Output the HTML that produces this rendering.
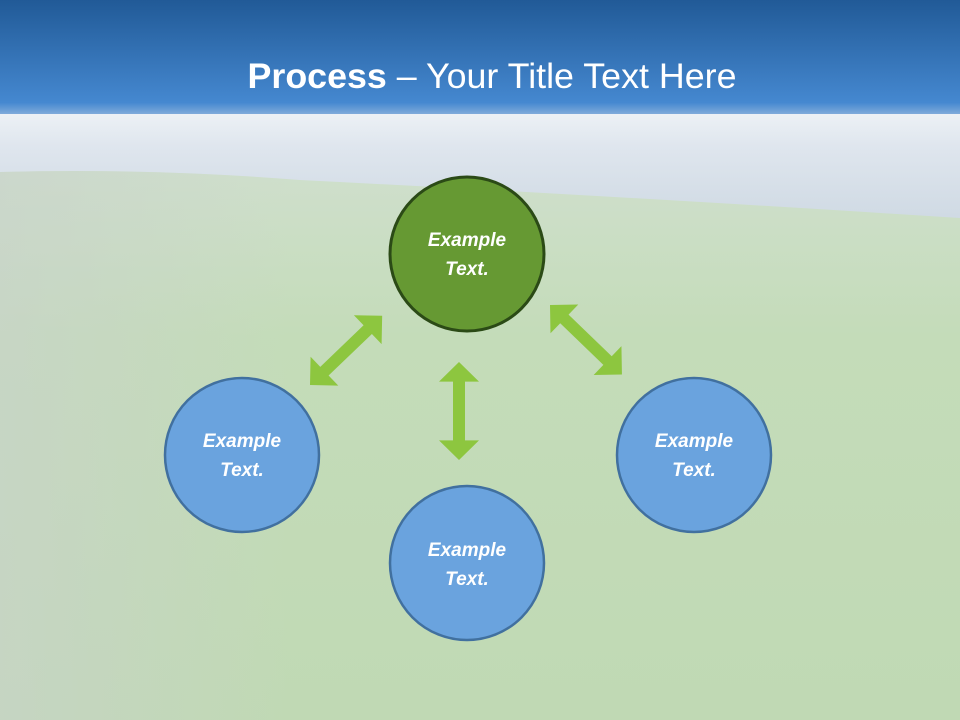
<!DOCTYPE html>
<html><head><meta charset="utf-8"><style>
html,body{margin:0;padding:0;width:960px;height:720px;overflow:hidden}
svg{display:block}
</style></head><body>
<svg width="960" height="720" viewBox="0 0 960 720" xmlns="http://www.w3.org/2000/svg">
<defs>
<linearGradient id="top" x1="0" y1="0" x2="0" y2="1">
<stop offset="0" stop-color="#215a97"/><stop offset="0.9" stop-color="#4588d0"/><stop offset="1" stop-color="#7fabda"/>
</linearGradient>
<linearGradient id="sky" x1="0" y1="0" x2="0" y2="1">
<stop offset="0" stop-color="#eef2f6"/><stop offset="0.3" stop-color="#dfe6ee"/><stop offset="1" stop-color="#cdd8e2"/>
</linearGradient>
<linearGradient id="grass" x1="0" y1="0" x2="0" y2="1">
<stop offset="0" stop-color="#cfdfcc"/><stop offset="0.3" stop-color="#c4dcb9"/><stop offset="1" stop-color="#c0d9b4"/>
</linearGradient>
<linearGradient id="grassx" x1="0" y1="0" x2="1" y2="0">
<stop offset="0" stop-color="#c9d2cc" stop-opacity="0.6"/><stop offset="0.3" stop-color="#c9d2cc" stop-opacity="0"/>
</linearGradient>
<polygon id="arr" points="0,0 20,-20 20,-6 80,-6 80,-20 100,0 80,20 80,6 20,6 20,20" fill="#8dc63f"/>
</defs>
<rect width="960" height="720" fill="url(#grass)"/>
<rect x="0" y="110" width="960" height="120" fill="url(#sky)"/>
<path d="M0,172 Q150,168 300,180 Q600,195 960,218 L960,720 L0,720 Z" fill="url(#grass)"/>
<path d="M0,172 Q150,168 300,180 Q600,195 960,218 L960,720 L0,720 Z" fill="url(#grassx)"/>
<rect x="0" y="0" width="960" height="114" fill="url(#top)"/>
<text x="492" y="88" text-anchor="middle" font-family="Liberation Sans, sans-serif" font-size="35" fill="#fff" textLength="489" lengthAdjust="spacingAndGlyphs"><tspan font-weight="bold">Process</tspan> – Your Title Text Here</text>

<use href="#arr" transform="translate(459,362) rotate(90) scale(0.98,1)"/>
<use href="#arr" transform="translate(310,385) rotate(-43.8)"/>
<use href="#arr" transform="translate(550,305) rotate(44)"/>

<g font-family="Liberation Sans, sans-serif" font-size="19" font-weight="bold" font-style="italic" fill="#fff" text-anchor="middle">
<circle cx="467" cy="254" r="77" fill="#669933" stroke="#2b4a16" stroke-width="3"/>
<text x="467" y="246">Example</text><text x="467" y="275">Text.</text>
<circle cx="242" cy="455" r="77" fill="#6aa3de" stroke="#41709f" stroke-width="2.5"/>
<text x="242" y="447">Example</text><text x="242" y="476">Text.</text>
<circle cx="694" cy="455" r="77" fill="#6aa3de" stroke="#41709f" stroke-width="2.5"/>
<text x="694" y="447">Example</text><text x="694" y="476">Text.</text>
<circle cx="467" cy="563" r="77" fill="#6aa3de" stroke="#41709f" stroke-width="2.5"/>
<text x="467" y="556">Example</text><text x="467" y="585">Text.</text>
</g>
</svg>
</body></html>
